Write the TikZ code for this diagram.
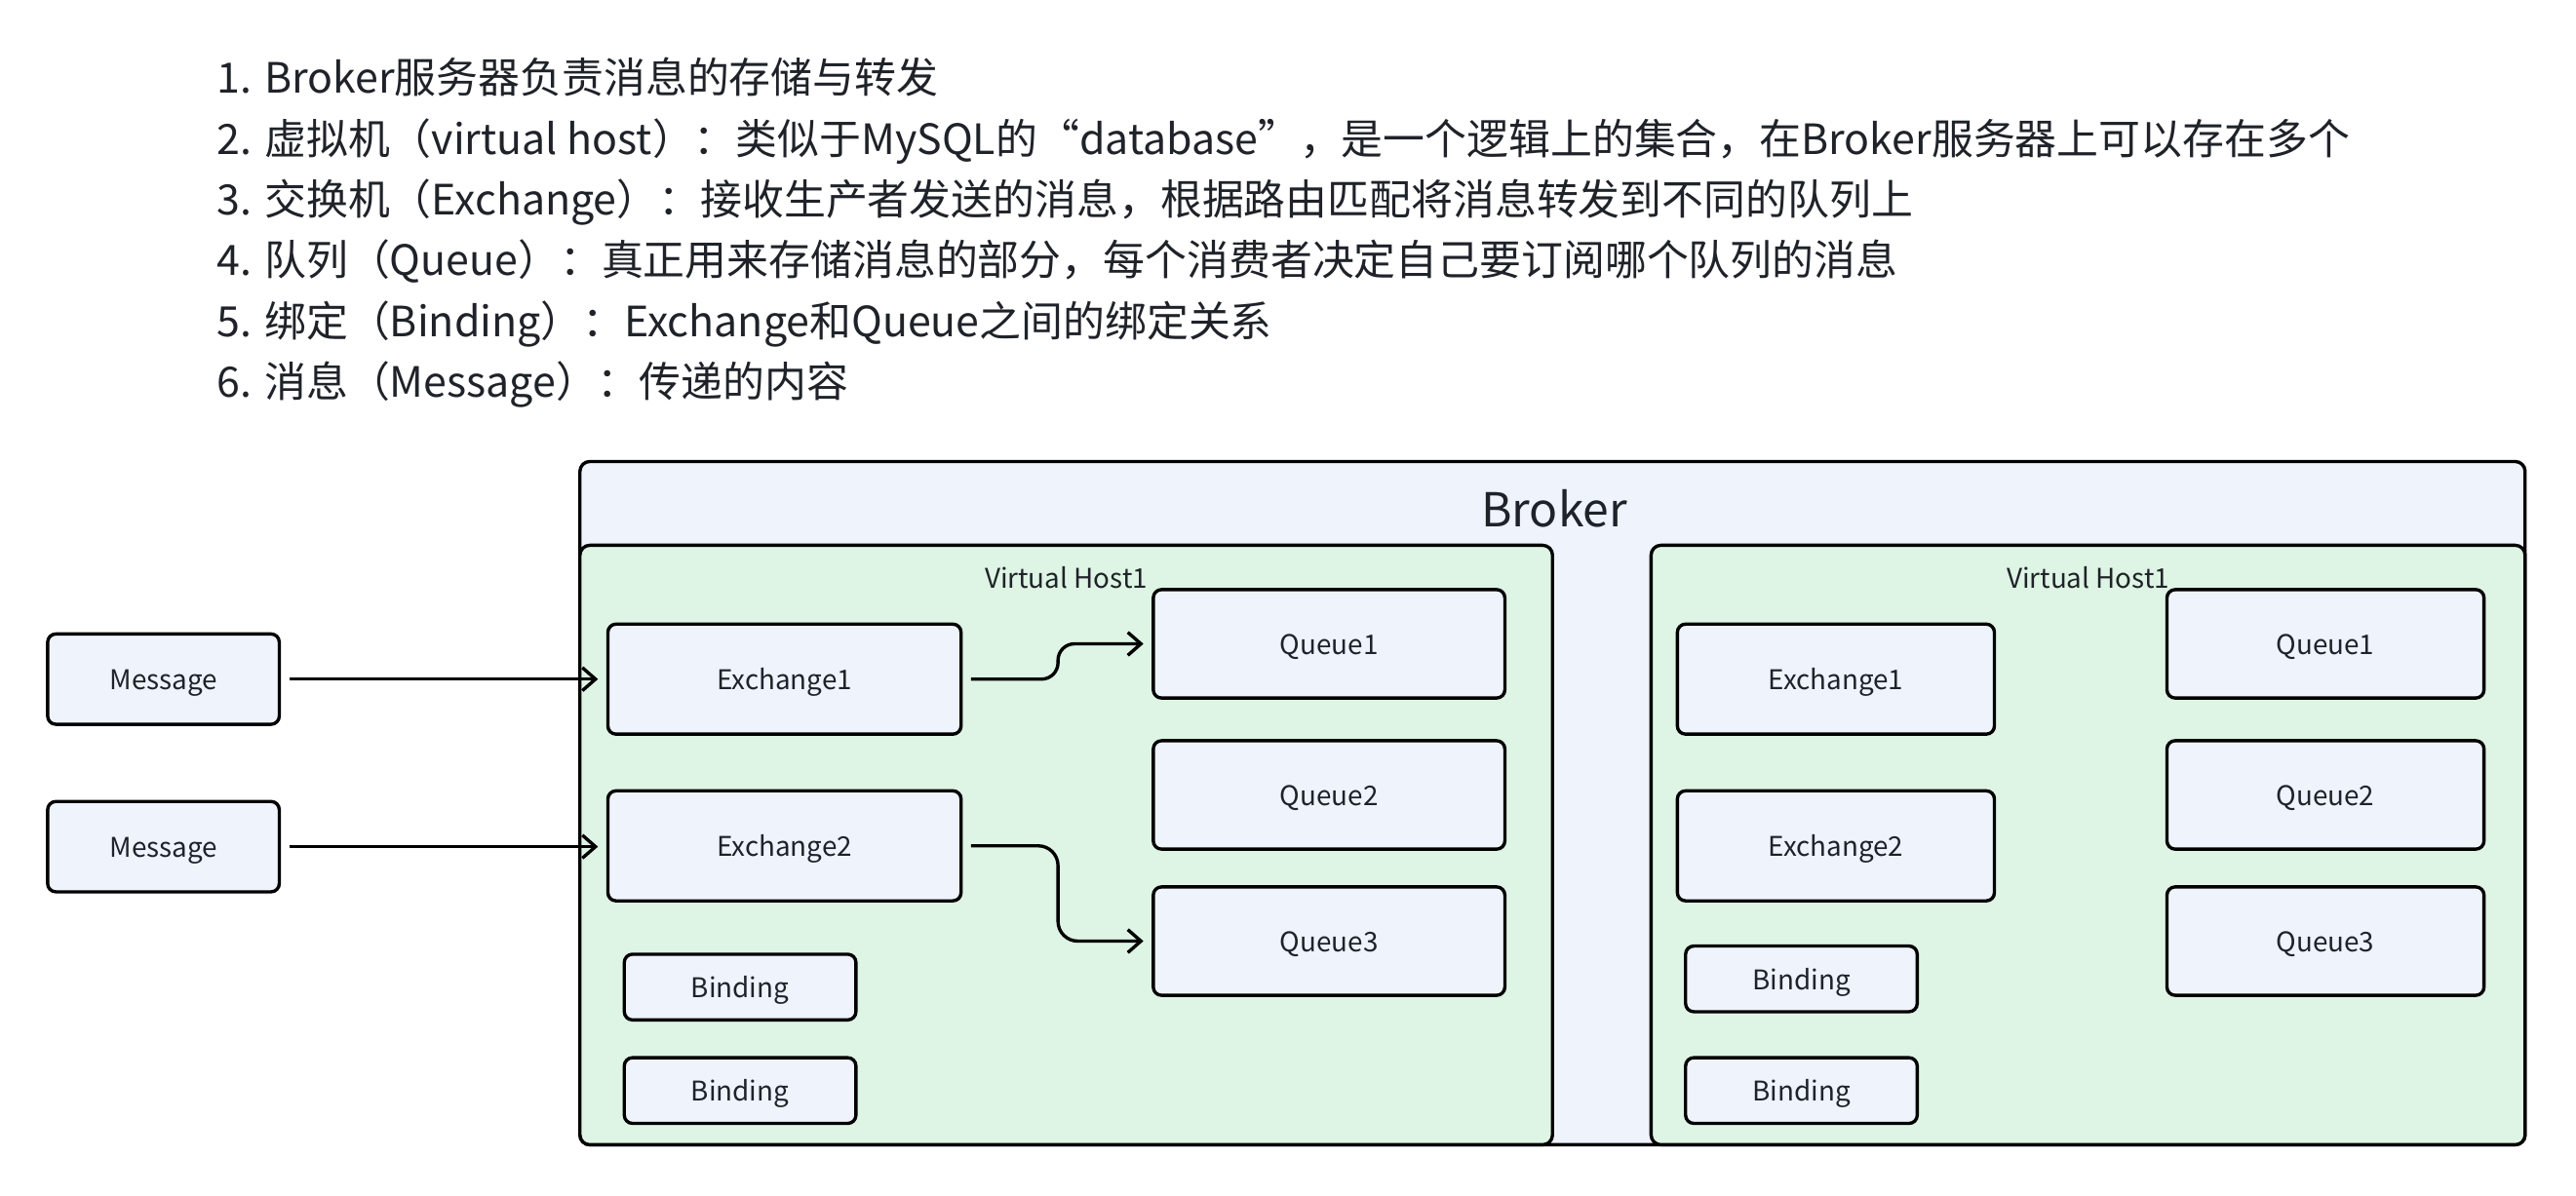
\documentclass[tikz,border=0pt]{standalone}
\usepackage{fontspec}
\newfontfamily\cjk{Noto Sans CJK SC}
\usetikzlibrary{arrows.meta}
\definecolor{boxblue}{HTML}{EEF3FC}
\definecolor{vhgreen}{HTML}{DEF4E4}
\definecolor{txt}{HTML}{1F2329}
\begin{document}
\begin{tikzpicture}[x=1pt,y=-1pt,
  hdr/.style={anchor=west, inner sep=0pt, font=\cjk\fontsize{25.45}{30}\selectfont, text=txt, text height=8.8pt, text depth=1.2pt},
  frame/.style={draw=black, line width=2pt, rounded corners=6pt, inner sep=0pt},
  box/.style={draw=black, line width=2pt, fill=boxblue, rounded corners=5pt, inner sep=0pt, font=\cjk\fontsize{16.5}{20}\selectfont, text=txt, text height=13pt, text depth=0pt},
  msgbox/.style={box, minimum width=141pt, minimum height=55pt},
  exbox/.style={box, minimum width=215pt, minimum height=67pt},
  exboxr/.style={box, minimum width=193pt, minimum height=67pt},
  qbox/.style={box, minimum width=214pt, minimum height=66pt},
  qboxr/.style={box, minimum width=193pt, minimum height=66pt},
  bdbox/.style={box, minimum width=141pt, minimum height=40pt},
  lbl/.style={inner sep=0pt, text=txt, font=\cjk\fontsize{16.5}{20}\selectfont},
  arr/.style={draw=black, line width=2pt, -{Straight Barb[length=8pt,width=14pt]}, shorten <=5pt, shorten >=5pt}
]
\useasboundingbox (0,0) rectangle (1568,728);
\fill[white] (0,0) rectangle (1568,728);

% header text
\node[hdr] (t1) at (132,53) {1. Broker服务器负责消息的存储与转发};
\node[hdr] (t2) at (132,90) {2. 虚拟机（virtual host）：类似于MySQL的“database”，是一个逻辑上的集合，在Broker服务器上可以存在多个};
\node[hdr] (t3) at (132,127) {3. 交换机（Exchange）：接收生产者发送的消息，根据路由匹配将消息转发到不同的队列上};
\node[hdr] (t4) at (132,164) {4. 队列（Queue）：真正用来存储消息的部分，每个消费者决定自己要订阅哪个队列的消息};
\node[hdr] (t5) at (132,201) {5. 绑定（Binding）：Exchange和Queue之间的绑定关系};
\node[hdr] (t6) at (132,238) {6. 消息（Message）：传递的内容};

% containers
\node[frame, fill=boxblue, minimum width=1184pt, minimum height=416pt] (broker) at (945,489) {};
\node[lbl, font=\cjk\fontsize{28.5}{34}\selectfont, anchor=base] (brokerlbl) at (946,320.5) {Broker};
\node[frame, fill=vhgreen, minimum width=592pt, minimum height=365pt] (vhl) at (649,514.5) {};
\node[frame, fill=vhgreen, minimum width=532pt, minimum height=365pt] (vhr) at (1271,514.5) {};
\node[lbl, anchor=base] (vhllbl) at (649,358) {Virtual Host1};
\node[lbl, anchor=base] (vhrlbl) at (1271,358) {Virtual Host1};

% messages
\node[msgbox] (m1) at (99.5,413.5) {Message};
\node[msgbox] (m2) at (99.5,515.5) {Message};

% left virtual host
\node[exbox] (ex1) at (477.5,413.5) {Exchange1};
\node[exbox] (ex2) at (477.5,515) {Exchange2};
\node[bdbox] (b1) at (450.5,601) {Binding};
\node[bdbox] (b2) at (450.5,664) {Binding};
\node[qbox] (q1) at (809,392) {Queue1};
\node[qbox] (q2) at (809,484) {Queue2};
\node[qbox] (q3) at (809,573) {Queue3};

% right virtual host
\node[exboxr] (rex1) at (1117.5,413.5) {Exchange1};
\node[exboxr] (rex2) at (1117.5,515) {Exchange2};
\node[bdbox] (rb1) at (1096.5,596) {Binding};
\node[bdbox] (rb2) at (1096.5,664) {Binding};
\node[qboxr] (rq1) at (1415.5,392) {Queue1};
\node[qboxr] (rq2) at (1415.5,484) {Queue2};
\node[qboxr] (rq3) at (1415.5,573) {Queue3};

% connectors
\draw[arr] (m1.east) -- (m1.east -| ex1.west);
\draw[arr] (m2.east) -- (m2.east -| ex2.west);
\draw[arr, rounded corners=10pt] (ex1.east) -- ++(58,0) |- (q1.west);
\draw[arr, rounded corners=12pt] (ex2.east) -- ++(58,0) |- (q3.west);
\end{tikzpicture}
\end{document}
